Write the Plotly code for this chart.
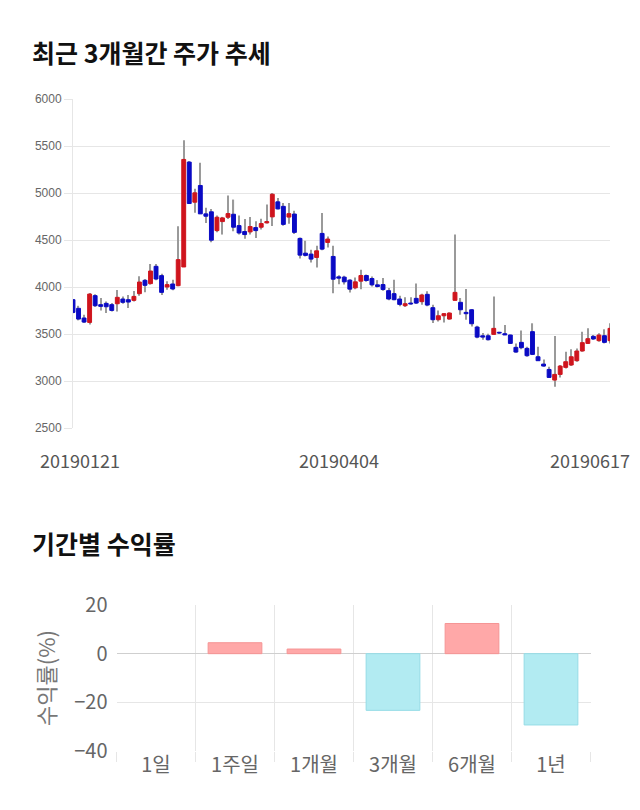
import plotly.graph_objects as go
import pandas as pd

# ---------------- data ----------------
holidays = ["2019-02-01", "2019-02-04", "2019-02-05", "2019-02-06", "2019-03-01",
            "2019-05-01", "2019-05-06", "2019-06-06"]
dates = [d.strftime("%Y%m%d") for d in pd.bdate_range("2019-01-21", "2019-06-17")
         if d.strftime("%Y-%m-%d") not in holidays]

opens = [3865, 3773, 3670, 3623, 3908, 3812, 3826, 3812, 3822, 3872,
         3865, 3858, 3929, 4071, 4036, 4220, 4121, 4000, 4032, 4014,
         4213, 5329, 4902, 5080, 4778, 4800, 4600, 4696, 4742, 4774,
         4653, 4590, 4586, 4632, 4636, 4682, 4746, 4906, 4858, 4744,
         4776, 4517, 4360, 4350, 4314, 4570, 4474, 4325, 4108, 4105,
         4073, 3991, 4062, 4122, 4090, 4023, 4026, 3961, 3929, 3872,
         3801, 3829, 3879, 3844, 3922, 3780, 3652, 3694, 3659, 3858,
         3837, 3730, 3758, 3574, 3481, 3481, 3496, 3518, 3503, 3489,
         3358, 3411, 3347, 3525, 3258, 3180, 3123, 3010, 3070, 3145,
         3170, 3216, 3319, 3400, 3475, 3429, 3482, 3429]
highs = [3870, 3800, 3705, 3936, 3922, 3883, 3847, 3830, 3968, 3900,
         3915, 3957, 4114, 4085, 4245, 4245, 4142, 4060, 4078, 4647,
         5560, 5340, 5044, 5322, 4842, 4831, 4760, 4746, 4973, 4930,
         4760, 4724, 4746, 4700, 4725, 4877, 5000, 4948, 4893, 4893,
         4812, 4527, 4492, 4396, 4439, 4787, 4538, 4439, 4126, 4119,
         4083, 4100, 4183, 4133, 4112, 4073, 4097, 3989, 4078, 3908,
         3890, 3890, 4036, 3929, 3954, 3812, 3751, 3723, 3730, 4558,
         3883, 3979, 3766, 3588, 3510, 3503, 3898, 3525, 3596, 3496,
         3400, 3536, 3365, 3614, 3365, 3230, 3152, 3479, 3170, 3312,
         3337, 3347, 3525, 3560, 3489, 3507, 3550, 3614]
lows = [3720, 3645, 3616, 3602, 3787, 3751, 3723, 3740, 3740, 3822,
        3776, 3847, 3908, 3943, 4025, 4071, 3915, 3972, 3965, 4007,
        4213, 4888, 4790, 4778, 4682, 4477, 4582, 4558, 4724, 4593,
        4558, 4512, 4558, 4522, 4611, 4675, 4650, 4824, 4652, 4673,
        4563, 4304, 4325, 4261, 4208, 4392, 4421, 3934, 4030, 4026,
        3941, 3977, 3977, 4055, 4005, 3995, 3959, 3858, 3858, 3794,
        3787, 3812, 3819, 3812, 3794, 3616, 3634, 3623, 3652, 3858,
        3705, 3652, 3581, 3456, 3439, 3432, 3496, 3500, 3490, 3393,
        3301, 3337, 3258, 3276, 3216, 3152, 3038, 2939, 3038, 3134,
        3159, 3205, 3312, 3393, 3436, 3418, 3400, 3400]
closes = [3730, 3659, 3627, 3925, 3801, 3794, 3790, 3751, 3890, 3837,
          3840, 3900, 4053, 4018, 4170, 4085, 3943, 4025, 3979, 4291,
          5357, 4888, 5002, 4778, 4753, 4498, 4742, 4735, 4781, 4636,
          4575, 4558, 4643, 4600, 4675, 4696, 4987, 4831, 4666, 4780,
          4581, 4339, 4336, 4297, 4385, 4403, 4510, 4083, 4094, 4055,
          3977, 4055, 4122, 4069, 4023, 4005, 3973, 3872, 3865, 3815,
          3822, 3819, 3829, 3915, 3808, 3652, 3694, 3716, 3723, 3943,
          3758, 3716, 3609, 3467, 3467, 3439, 3560, 3510, 3490, 3400,
          3308, 3354, 3269, 3283, 3216, 3159, 3038, 3070, 3159, 3205,
          3258, 3319, 3408, 3450, 3447, 3489, 3411, 3560]

x_tick_dates = ["20190121", "20190404", "20190617"]

periods = ["1일", "1주일", "1개월", "3개월", "6개월", "1년"]
returns = [0, 4.5, 1.9, -23.3, 12.4, -29.3]

# ---------------- styles ----------------
UP = "#CF141D"
DOWN = "#0A0AC4"
WICK = "#9a9a9a"
GRID = "#e6e6e6"
POS = "#FFA8A8"
POS_LINE = "#F59494"
NEG = "#B2EBF2"
NEG_LINE = "#95DCE6"
KFONT = "Noto Sans CJK KR"

n = min(len(dates), len(opens))
dates = dates[:n]

body_base = [min(o, c) for o, c in zip(opens, closes)]
body_h = [abs(c - o) for o, c in zip(opens, closes)]
body_col = [UP if c > o else DOWN for o, c in zip(opens, closes)]
wick_h = [h - l for h, l in zip(highs, lows)]

fig = go.Figure()

fig.add_trace(go.Bar(x=dates, y=wick_h, base=lows, width=0.2,
                     marker=dict(color=WICK, line=dict(width=0)),
                     xaxis="x", yaxis="y", showlegend=False, hoverinfo="skip"))
fig.add_trace(go.Bar(x=dates, y=body_h, base=body_base, width=0.7,
                     marker=dict(color=body_col, line=dict(color=body_col, width=1)),
                     xaxis="x", yaxis="y", showlegend=False))

bar_cols = [POS if v >= 0 else NEG for v in returns]
bar_lines = [("rgba(0,0,0,0)" if v == 0 else (POS_LINE if v > 0 else NEG_LINE)) for v in returns]
fig.add_trace(go.Bar(x=periods, y=returns, width=0.68,
                     marker=dict(color=bar_cols, line=dict(color=bar_lines, width=1)),
                     xaxis="x2", yaxis="y2", showlegend=False))

H = 810.0
W = 640.0

fig.update_layout(
    width=640, height=810,
    margin=dict(l=0, r=0, t=0, b=0, autoexpand=False),
    paper_bgcolor="white", plot_bgcolor="white",
    barmode="overlay",
    showlegend=False,
    xaxis=dict(domain=[73 / W, 610 / W], type="category", range=[0, n - 1],
               showgrid=False, showticklabels=False, ticks="", zeroline=False,
               showline=False, fixedrange=True, automargin=False),
    yaxis=dict(domain=[1 - 428 / H, 1 - 99 / H], range=[2500, 6000], dtick=500,
               showgrid=True, gridcolor=GRID, gridwidth=1,
               ticks="outside", ticklen=8, tickcolor=GRID,
               showline=True, linecolor=GRID, zeroline=False, automargin=False,
               tickfont=dict(family="Liberation Sans, Arial", size=12, color="#666")),
    xaxis2=dict(domain=[116.5 / W, 590.5 / W], type="category", anchor="y2",
                tickson="boundaries", showgrid=True, gridcolor=GRID,
                ticks="outside", ticklen=10, tickcolor=GRID,
                showline=False, zeroline=False, automargin=False,
                tickfont=dict(family=KFONT, size=20, color="#666")),
    yaxis2=dict(domain=[1 - 751 / H, 1 - 605 / H], range=[-40, 20], dtick=20,
                anchor="x2", showgrid=True, gridcolor=GRID, ticks="",
                zeroline=True, zerolinecolor="#cfcfcf", zerolinewidth=1,
                ticklabelstandoff=8, automargin=False,
                tickfont=dict(family=KFONT, size=20, color="#666")),
)

ann = []
ann.append(dict(text="<b>최근 3개월간 주가 추세</b>", x=30 / W, y=1 - 52 / H,
                xref="paper", yref="paper", xanchor="left", yanchor="middle",
                showarrow=False, font=dict(family=KFONT, size=25, color="#111")))
ann.append(dict(text="<b>기간별 수익률</b>", x=30 / W, y=1 - 543 / H,
                xref="paper", yref="paper", xanchor="left", yanchor="middle",
                showarrow=False, font=dict(family=KFONT, size=25, color="#111")))
ann.append(dict(text="수익률(%)", x=45 / W, y=1 - 678 / H, textangle=-90,
                xref="paper", yref="paper", xanchor="center", yanchor="middle",
                showarrow=False, font=dict(family=KFONT, size=22, color="#777")))
shifts = [7, 0, -20]
for d, s in zip(x_tick_dates, shifts):
    ann.append(dict(text=d, x=dates.index(d), y=1 - 460 / H, xref="x", yref="paper",
                    xanchor="center", yanchor="middle", xshift=s, showarrow=False,
                    font=dict(family=KFONT, size=18, color="#555")))
fig.update_layout(annotations=ann)

fig.write_html("out.html")
